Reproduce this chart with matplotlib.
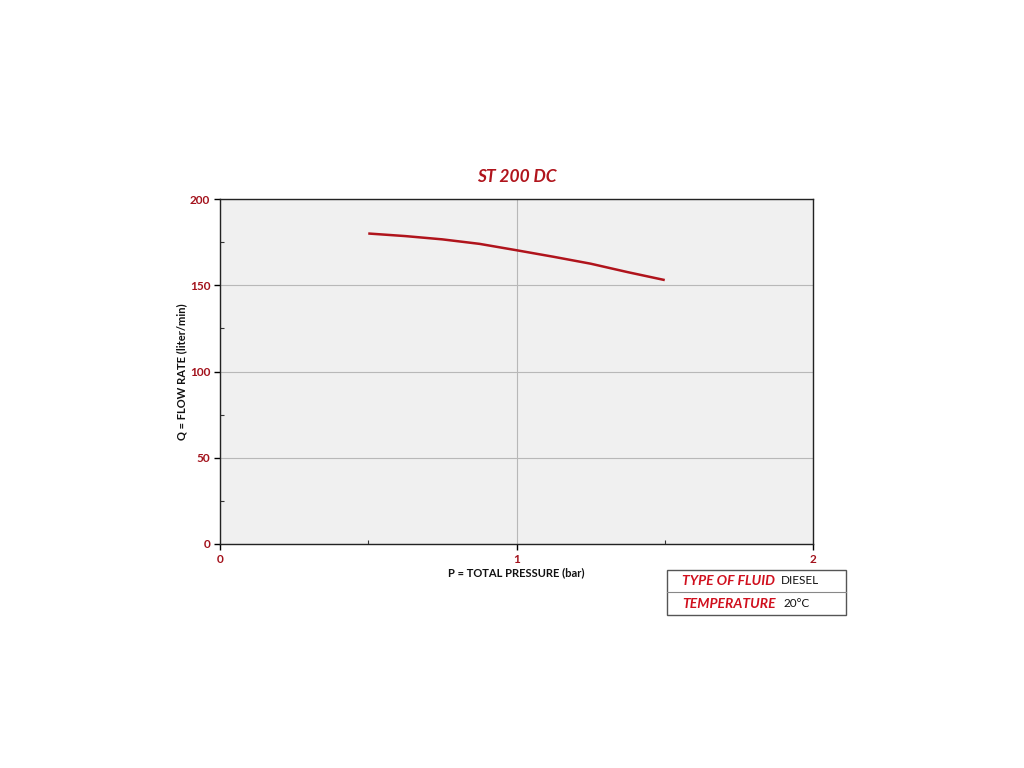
import matplotlib
matplotlib.use("Agg")
import matplotlib.pyplot as plt
from matplotlib.patches import Rectangle
from matplotlib.lines import Line2D

pressure = [0.5, 0.625, 0.75, 0.875, 1.0, 1.125, 1.25, 1.375, 1.5]
flow = [180.0, 178.5, 176.6, 174.0, 170.3, 166.5, 162.5, 157.6, 153.0]
x_ticks = [0, 1, 2]
y_ticks = [0, 50, 100, 150, 200]
title = "ST 200 DC"
xlabel = "P = TOTAL PRESSURE (bar)"
ylabel = "Q = FLOW RATE (liter/min)"
table_rows = [("TYPE OF FLUID", "DIESEL"), ("TEMPERATURE", "20°C")]

RED = "#b0141c"
TICKRED = "#a3121c"

plt.rcParams['font.family'] = ['Lato', 'DejaVu Sans']

fig = plt.figure(figsize=(10.24, 7.68), dpi=100)
ax = fig.add_axes([220/1024, 1-544/768, (813-220)/1024, (544-199)/768])
ax.set_facecolor("#f0f0f0")
ax.plot(pressure, flow, color=RED, lw=1.8, solid_capstyle='butt', solid_joinstyle='round')
ax.set_xlim(0, 2)
ax.set_ylim(0, 200)
ax.set_xticks(x_ticks)
ax.set_xticklabels([str(t) for t in x_ticks])
ax.set_yticks(y_ticks)
ax.set_yticklabels([str(t) for t in y_ticks])
ax.set_xticks([0.5, 1.5], minor=True)
ax.set_yticks([25, 75, 125, 175], minor=True)
ax.grid(True, which='major', color='#b8b8b8', lw=0.8)
ax.set_axisbelow(True)
ax.tick_params(which='major', direction='out', length=4, width=1, colors='black',
               labelcolor=TICKRED, labelsize=8.5)
ax.tick_params(axis='x', which='major', pad=3)
ax.tick_params(axis='y', which='major', pad=3)
ax.tick_params(which='minor', direction='in', length=3, width=0.8, colors='#333333')
for lab in ax.get_xticklabels() + ax.get_yticklabels():
    lab.set_fontweight('bold')
for s in ax.spines.values():
    s.set_color('#222222')
    s.set_linewidth(1.0)
ax.set_title(title, color=RED, fontsize=12.5, fontweight='bold', style='italic', pad=12)
ax.set_xlabel(xlabel, fontsize=8, fontweight='bold', color='#111111', labelpad=2)
ax.set_ylabel(ylabel, fontsize=8, fontweight='bold', color='#111111', labelpad=2)

# info table
x0, x1 = 667/1024, 846/1024
ytop, ymid, ybot = 1-570/768, 1-592/768, 1-615/768
fig.add_artist(Rectangle((x0, ybot), x1-x0, ytop-ybot, transform=fig.transFigure,
                         facecolor='white', edgecolor='#555555', lw=1.0))
fig.add_artist(Line2D([x0, x1], [ymid, ymid], transform=fig.transFigure, color='#888888', lw=0.8))
rows_y = [(ytop+ymid)/2, (ymid+ybot)/2]
for (k, v), yy in zip(table_rows, rows_y):
    fig.text(682/1024, yy, k, color='#d0101e', fontsize=10, fontweight='bold', style='italic',
             va='center', ha='left')
for (k, v), yy, xx in zip(table_rows, rows_y, [781, 783]):
    fig.text(xx/1024, yy, v, color='#111111', fontsize=8.5, va='center', ha='left')

fig.savefig("out.png", dpi=100)
